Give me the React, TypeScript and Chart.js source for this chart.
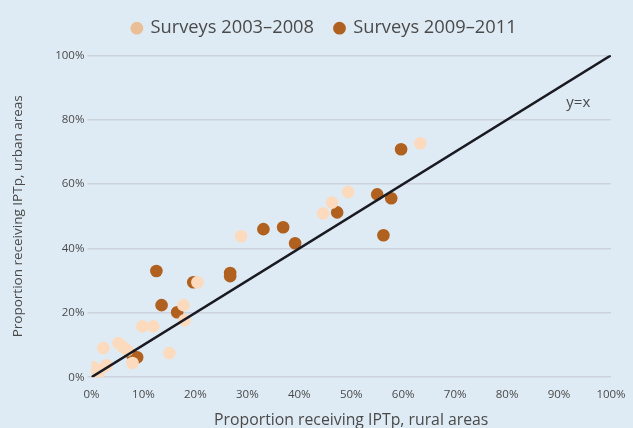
import React, { useEffect, useRef } from "react";
import { Chart, registerables } from "chart.js";

Chart.register(...registerables);

const seriesNames = ["Surveys 2003–2008", "Surveys 2009–2011"];
const lightX = [0.0, 1.3, 1.6, 0.4, 2.9, 2.3, 5.2, 6.0, 6.9, 7.9, 9.8, 11.9, 15.0, 17.7, 17.9, 20.4, 28.8, 44.6, 46.3, 49.4, 63.3];
const lightY = [0.6, 1.2, 2.2, 3.1, 3.7, 9.1, 10.6, 9.5, 8.4, 4.4, 15.8, 15.8, 7.5, 22.4, 17.7, 29.5, 43.8, 50.9, 54.3, 57.5, 72.7];
const darkX = [7.9, 8.8, 12.5, 13.5, 16.5, 19.6, 26.7, 26.7, 33.1, 36.9, 39.2, 47.3, 55.0, 56.2, 57.7, 59.6];
const darkY = [6.8, 6.2, 33.0, 22.4, 20.2, 29.5, 32.4, 31.4, 46.0, 46.6, 41.6, 51.2, 56.8, 44.1, 55.6, 70.8];
const lineX = [0, 100];
const lineY = [0, 100];
const xTitle = "Proportion receiving IPTp, rural areas";
const yTitle = "Proportion receiving IPTp, urban areas";
const lineLabel = "y=x";
const lineLabelPos = [93.7, 85.3];

const FONT = "'Open Sans', 'Noto Sans', sans-serif";
const BG = "#DFEBF4";
const TEXT = "#4a4a4a";

export default function App() {
  const ref = useRef<HTMLCanvasElement | null>(null);
  useEffect(() => {
    document.body.style.margin = "0";
    const ctx = ref.current!;
    const labelPlugin = {
      id: "yxLabel",
      afterDatasetsDraw(chart: any) {
        const c = chart.ctx;
        const xs = chart.scales.x;
        const ys = chart.scales.y;
        c.save();
        c.font = `15px ${FONT}`;
        c.fillStyle = TEXT;
        c.textAlign = "center";
        c.textBaseline = "middle";
        c.fillText(lineLabel, xs.getPixelForValue(lineLabelPos[0]), ys.getPixelForValue(lineLabelPos[1]));
        c.restore();
      },
    };
    const legendGap = {
      id: "legendGap",
      beforeInit(chart: any) {
        const lg = chart.legend;
        if (!lg) return;
        const orig = lg.fit;
        lg.fit = function () {
          orig.call(this);
          this.height += 8;
        };
      },
      afterLayout(chart: any) {
        const lg = chart.legend;
        if (!lg) return;
        lg.left += 14;
        lg.right += 14;
      },
    };
    const chart = new Chart(ctx, {
      type: "scatter",
      data: {
        datasets: [
          {
            type: "line",
            label: lineLabel,
            data: lineX.map((x, i) => ({ x, y: lineY[i] })),
            borderColor: "#1a1a22",
            borderWidth: 2.5,
            pointRadius: 0,
            order: 0,
          } as any,
          {
            label: seriesNames[0],
            data: lightX.map((x, i) => ({ x, y: lightY[i] })),
            backgroundColor: "#FCDABD",
            borderWidth: 0,
            pointRadius: 6.3,
            order: 1,
          },
          {
            label: seriesNames[1],
            data: darkX.map((x, i) => ({ x, y: darkY[i] })),
            backgroundColor: "#B0601F",
            borderWidth: 0,
            pointRadius: 6.3,
            order: 2,
          },
        ],
      },
      options: {
        animation: false,
        responsive: false,
        devicePixelRatio: 1,
        layout: { padding: { left: 10, right: 22, top: -2, bottom: -2 } },
        plugins: {
          tooltip: { enabled: false },
          legend: {
            position: "top",
            labels: {
              usePointStyle: true,
              pointStyle: "circle",
              boxWidth: 9,
              boxHeight: 9,
              padding: 21,
              color: TEXT,
              font: { family: FONT, size: 18.3 },
              generateLabels: () => {
                const cols = ["#EABF96", "#B0601F"];
                return seriesNames.map((n, i) => ({
                  text: n,
                  fillStyle: cols[i],
                  strokeStyle: cols[i],
                  lineWidth: 0,
                  pointStyle: "circle",
                  datasetIndex: i + 1,
                  fontColor: TEXT,
                }));
              },
            },
          },
        },
        scales: {
          x: {
            type: "linear",
            min: 0,
            max: 100,
            grid: { display: false },
            border: { display: false },
            ticks: {
              stepSize: 10,
              padding: 3,
              color: TEXT,
              font: { family: FONT, size: 11.5 },
              callback: (v: any) => v + "%",
            },
            title: {
              display: true,
              text: xTitle,
              color: TEXT,
              font: { family: FONT, size: 15.8 },
              padding: { top: 6, bottom: 0 },
            },
          },
          y: {
            type: "linear",
            min: 0,
            max: 100,
            grid: { color: "#cdd3dc", lineWidth: 1.5, tickLength: 4 },
            border: { display: false },
            ticks: {
              stepSize: 20,
              padding: 3,
              color: TEXT,
              font: { family: FONT, size: 11.5 },
              callback: (v: any) => v + "%",
            },
            title: {
              display: true,
              text: yTitle,
              color: TEXT,
              font: { family: FONT, size: 13.5 },
              padding: { top: 0, bottom: 26 },
            },
          },
        },
      },
      plugins: [labelPlugin, legendGap],
    } as any);
    return () => chart.destroy();
  }, []);
  return (
    <div style={{ width: 633, height: 428, background: BG }}>
      <canvas ref={ref} width={633} height={428} style={{ display: "block" }} />
    </div>
  );
}
